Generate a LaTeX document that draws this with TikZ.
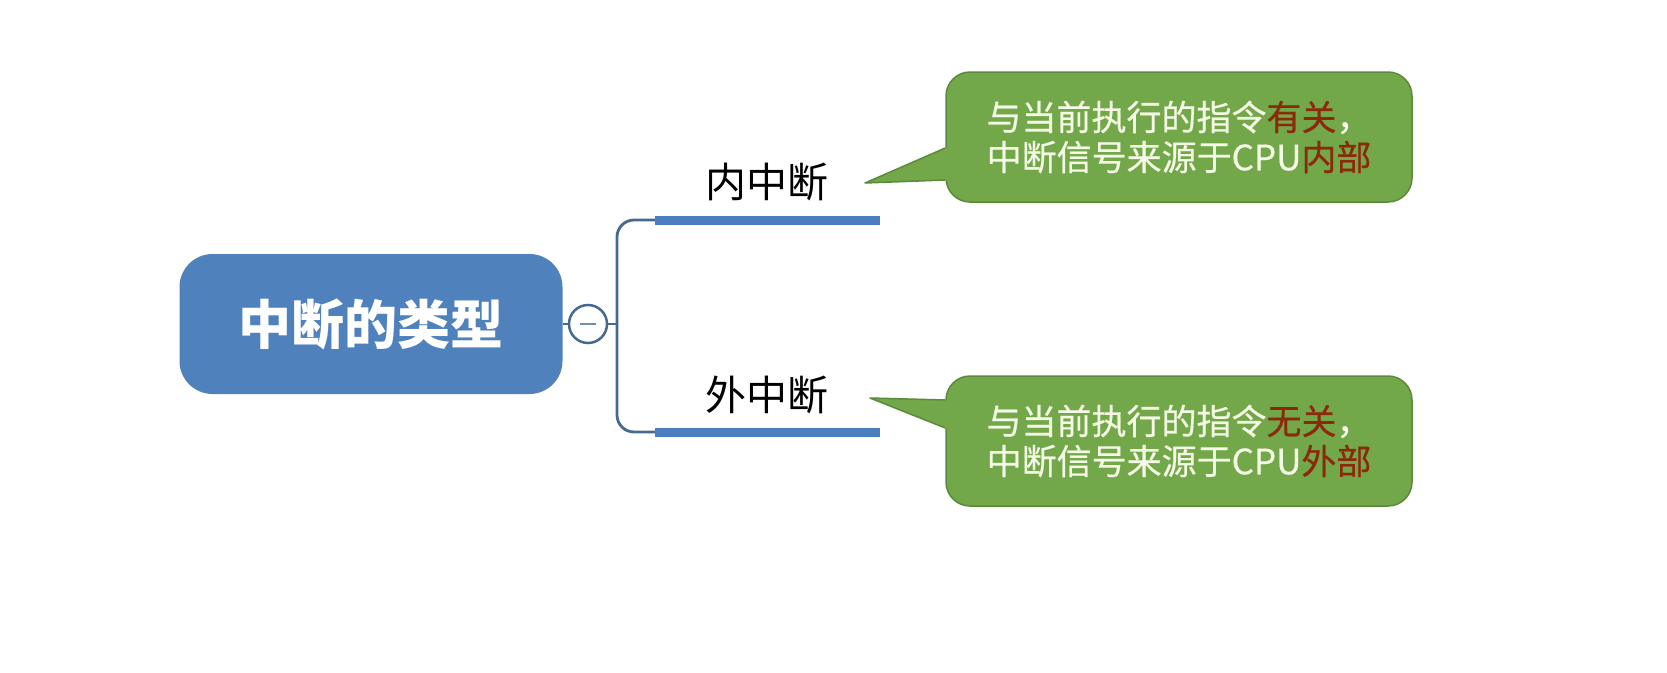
\documentclass[tikz,border=0pt]{standalone}
\usepackage{fontspec}
\newfontfamily\cjk{Noto Sans CJK SC}
\newfontfamily\cjkm[FakeBold=0.5]{Noto Sans CJK SC}
\definecolor{mainblue}{HTML}{4F81BD}
\definecolor{barblue}{HTML}{4A7EBF}
\definecolor{linec}{HTML}{45698F}
\definecolor{cgreen}{HTML}{72A84A}
\definecolor{cgreenb}{HTML}{5A8A3A}
\definecolor{ctext}{HTML}{F4F8E4}
\definecolor{cred}{HTML}{8B2A0A}
\tikzset{
  mainbox/.style={rectangle, rounded corners=33pt, fill=mainblue, text=white,
    minimum width=383pt, minimum height=140pt, inner sep=0pt,
    font=\cjk\bfseries\fontsize{53}{60}\selectfont},
  btnstyle/.style={circle, draw=linec, line width=2.5pt, fill=white, minimum size=38pt, inner sep=0pt},
  conn/.style={draw=linec, line width=2.8pt},
  barline/.style={draw=barblue, line width=9pt},
  lbl/.style={inner sep=0pt, font=\cjk\fontsize{41}{48}\selectfont, text=black},
  callbox/.style={rectangle, rounded corners=24pt, fill=cgreen, draw=cgreenb, line width=1.5pt,
    minimum width=466pt, minimum height=130pt, inner sep=0pt, align=center, text=ctext,
    font=\cjkm\fontsize{35}{40}\selectfont},
  ptrfill/.style={fill=cgreen},
  ptredge/.style={draw=cgreenb, line width=1.5pt, line join=round}
}
\begin{document}
\begin{tikzpicture}[x=1pt,y=-1pt]
\useasboundingbox[fill=white] (0,0) rectangle (1667,672);
% main node
\node[mainbox] (main) at (371,324) {中断的类型};
\node[btnstyle] (btn) at (588,324) {};
\draw[line width=2.5pt, draw=linec!75] ([xshift=-8pt]btn.center) -- ([xshift=8pt]btn.center);
\coordinate (j) at (617,324);
\coordinate (b1s) at (655,220);
\coordinate (b1e) at (880,220);
\coordinate (b2s) at (655,432);
\coordinate (b2e) at (880,432);
\draw[conn] (main.east) -- (btn.west);
\draw[conn] (btn.east) -- (j);
\draw[conn, rounded corners=17pt] (j) |- (b1s);
\draw[conn, rounded corners=17pt] (j) |- (b2s);
\draw[barline] (b1s) -- (b1e);
\draw[barline] (b2s) -- (b2e);
% labels
\node[lbl] (l1) at (767,182) {内中断};
\node[lbl] (l2) at (767,395) {外中断};
% callout 1
\node[callbox] (c1) at (1179,137) {与当前执行的指令\textcolor{cred}{有关}，\\中断信号来源于CPU\textcolor{cred}{内部}};
\coordinate (t1) at (865,183);
\coordinate (p1a) at ([yshift=-11pt]c1.west);
\coordinate (p1b) at ([yshift=-43pt]c1.west);
\fill[ptrfill] (t1) -- (p1a) -- ([xshift=8pt]p1a) -- ([xshift=8pt]p1b) -- (p1b) -- cycle;
\draw[ptredge] (p1a) -- (t1) -- (p1b);
% callout 2
\node[callbox] (c2) at (1179,441) {与当前执行的指令\textcolor{cred}{无关}，\\中断信号来源于CPU\textcolor{cred}{外部}};
\coordinate (t2) at (870,398);
\coordinate (p2a) at ([yshift=41pt]c2.west);
\coordinate (p2b) at ([yshift=13pt]c2.west);
\fill[ptrfill] (t2) -- (p2a) -- ([xshift=8pt]p2a) -- ([xshift=8pt]p2b) -- (p2b) -- cycle;
\draw[ptredge] (p2a) -- (t2) -- (p2b);
\end{tikzpicture}
\end{document}
